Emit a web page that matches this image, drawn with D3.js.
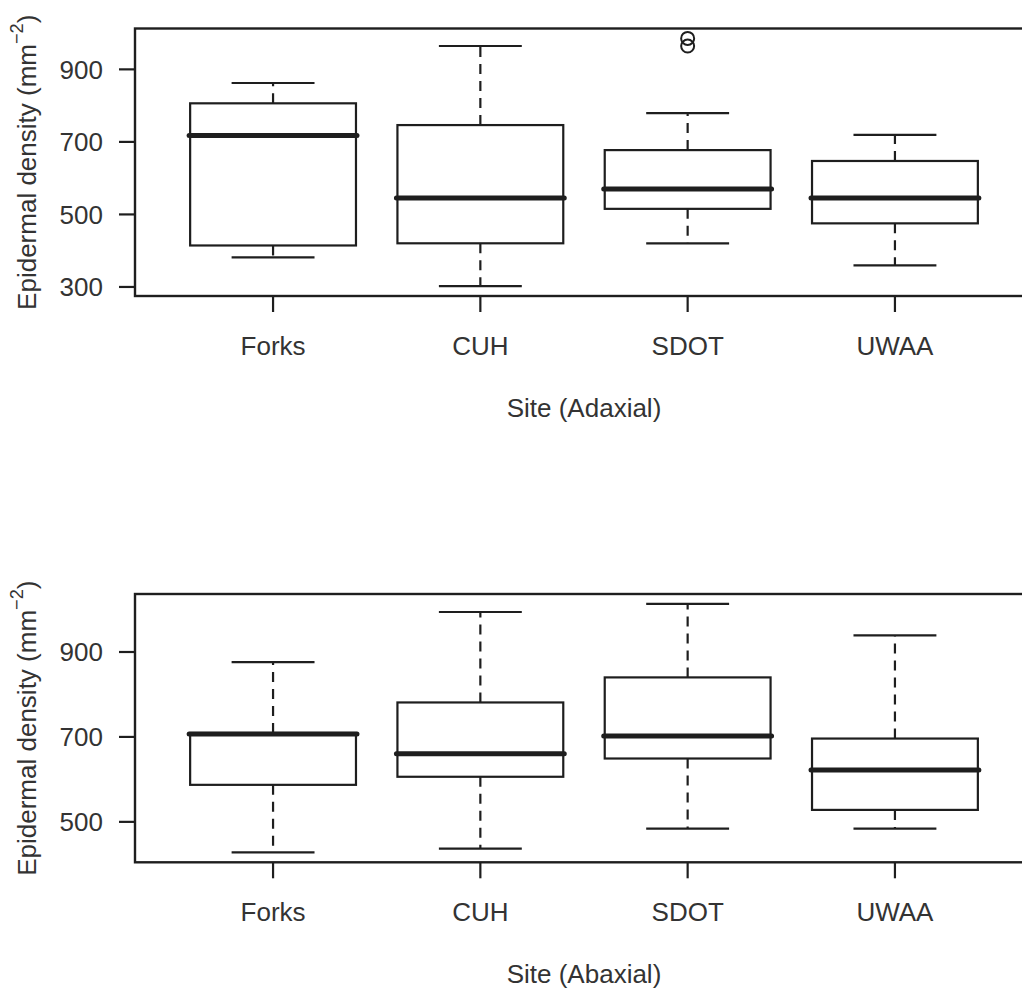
<!DOCTYPE html>
<html>
<head>
<meta charset="utf-8">
<script src="https://cdn.jsdelivr.net/npm/d3@7"></script>
<style>
  html, body { margin: 0; padding: 0; background: #fff; }
  svg { display: block; }
  text { font-family: "Liberation Sans", Arial, sans-serif; fill: #333; }
</style>
</head>
<body>
<svg id="chart" width="1022" height="994"></svg>
<script>
// ---- Data ----
const categories = ["Forks", "CUH", "SDOT", "UWAA"];

// Adaxial (top panel)
const adaxialLowerWhisker = [380, 301, 419, 358];
const adaxialQ1          = [413, 419, 514, 474];
const adaxialMedian      = [716, 544, 569, 544];
const adaxialQ3          = [805, 745, 676, 646];
const adaxialUpperWhisker= [861, 963, 778, 718];
const adaxialOutliers    = [[], [], [963, 984], []];
const adaxialTicks       = [300, 500, 700, 900];

// Abaxial (bottom panel)
const abaxialLowerWhisker = [427, 436, 483, 483];
const abaxialQ1           = [586, 605, 648, 527];
const abaxialMedian       = [706, 659, 701, 621];
const abaxialQ3           = [708, 780, 839, 695];
const abaxialUpperWhisker = [875, 993, 1012, 938];
const abaxialOutliers     = [[], [], [], []];
const abaxialTicks        = [500, 700, 900];

const yTitle = "Epidermal density (mm";
const xTitles = ["Site (Adaxial)", "Site (Abaxial)"];

// ---- Build ----
const svg = d3.select("#chart");
const FONT = 26;
const INK = "#1e1e1e";

const panels = [
  { top: 28.5, bottom: 296, lw: adaxialLowerWhisker, q1: adaxialQ1, med: adaxialMedian,
    q3: adaxialQ3, uw: adaxialUpperWhisker, out: adaxialOutliers, ticks: adaxialTicks, xt: xTitles[0] },
  { top: 594, bottom: 862.3, lw: abaxialLowerWhisker, q1: abaxialQ1, med: abaxialMedian,
    q3: abaxialQ3, uw: abaxialUpperWhisker, out: abaxialOutliers, ticks: abaxialTicks, xt: xTitles[1] }
];

const plotLeft = 135, plotRight = 1033;

const x = d3.scaleBand()
  .domain(categories)
  .range([plotLeft, plotRight])
  .paddingInner(0.2)
  .paddingOuter(0.266);

panels.forEach(p => {
  const all = [].concat(p.lw, p.uw, ...p.out);
  const lo = d3.min(all), hi = d3.max(all);
  const pad = (hi - lo) * 0.04;
  const y = d3.scaleLinear().domain([lo - pad, hi + pad]).range([p.bottom, p.top]);

  const g = svg.append("g");

  const rows = categories.map((c, i) => ({
    c, lw: p.lw[i], q1: p.q1[i], med: p.med[i], q3: p.q3[i], uw: p.uw[i], out: p.out[i]
  }));

  const bw = x.bandwidth();
  const cx = c => x(c) + bw / 2;

  const box = g.selectAll("g.box").data(rows).join("g").attr("class", "box");

  // whiskers (dashed)
  box.append("line")
    .attr("x1", d => cx(d.c)).attr("x2", d => cx(d.c))
    .attr("y1", d => y(d.q3)).attr("y2", d => y(d.uw))
    .attr("stroke", INK).attr("stroke-width", 2.2).attr("stroke-dasharray", "10,7");
  box.append("line")
    .attr("x1", d => cx(d.c)).attr("x2", d => cx(d.c))
    .attr("y1", d => y(d.q1)).attr("y2", d => y(d.lw))
    .attr("stroke", INK).attr("stroke-width", 2.2).attr("stroke-dasharray", "10,7");
  // staples
  box.append("line")
    .attr("x1", d => cx(d.c) - bw / 4).attr("x2", d => cx(d.c) + bw / 4)
    .attr("y1", d => y(d.uw)).attr("y2", d => y(d.uw))
    .attr("stroke", INK).attr("stroke-width", 2.2);
  box.append("line")
    .attr("x1", d => cx(d.c) - bw / 4).attr("x2", d => cx(d.c) + bw / 4)
    .attr("y1", d => y(d.lw)).attr("y2", d => y(d.lw))
    .attr("stroke", INK).attr("stroke-width", 2.2);
  // box
  box.append("rect")
    .attr("x", d => x(d.c)).attr("width", bw)
    .attr("y", d => y(d.q3)).attr("height", d => y(d.q1) - y(d.q3))
    .attr("fill", "#fff").attr("stroke", INK).attr("stroke-width", 2.2);
  // median
  box.append("line")
    .attr("x1", d => x(d.c) - 1).attr("x2", d => x(d.c) + bw + 1)
    .attr("y1", d => y(d.med)).attr("y2", d => y(d.med))
    .attr("stroke", INK).attr("stroke-width", 5).attr("stroke-linecap", "round");
  // outliers
  box.selectAll("circle").data(d => d.out.map(v => ({ c: d.c, v }))).join("circle")
    .attr("cx", d => cx(d.c)).attr("cy", d => y(d.v)).attr("r", 6.5)
    .attr("fill", "none").attr("stroke", INK).attr("stroke-width", 2);

  // frame
  g.append("rect")
    .attr("x", plotLeft).attr("y", p.top)
    .attr("width", plotRight - plotLeft).attr("height", p.bottom - p.top)
    .attr("fill", "none").attr("stroke", INK).attr("stroke-width", 2.4);

  // y axis
  const yAxis = d3.axisLeft(y).tickValues(p.ticks).tickSize(16).tickPadding(16).tickFormat(d3.format("d"));
  const ya = g.append("g").attr("transform", `translate(${plotLeft},0)`).call(yAxis);
  ya.select(".domain").remove();
  ya.selectAll(".tick line").attr("stroke", INK).attr("stroke-width", 2.2);
  ya.selectAll(".tick text").attr("font-size", FONT).attr("fill", "#333")
    .attr("font-family", "Liberation Sans, Arial, sans-serif").attr("dy", "0.36em");

  // x axis
  const xAxis = d3.axisBottom(x).tickSize(16).tickPadding(0);
  const xa = g.append("g").attr("transform", `translate(0,${p.bottom})`).call(xAxis);
  xa.select(".domain").remove();
  xa.selectAll(".tick line").attr("stroke", INK).attr("stroke-width", 2.2);
  xa.selectAll(".tick text").attr("font-size", FONT).attr("fill", "#333")
    .attr("font-family", "Liberation Sans, Arial, sans-serif")
    .attr("y", 59).attr("dy", 0);

  // x title
  g.append("text")
    .attr("x", (plotLeft + plotRight) / 2).attr("y", p.bottom + 121)
    .attr("text-anchor", "middle").attr("font-size", FONT)
    .text(p.xt);

  // y title
  const cy = (p.top + p.bottom) / 2;
  const t = g.append("text")
    .attr("transform", `translate(36,${cy}) rotate(-90)`)
    .attr("text-anchor", "middle").attr("font-size", FONT);
  t.append("tspan").text(yTitle);
  t.append("tspan").attr("font-size", FONT * 0.7).attr("dy", -FONT * 0.5).text("\u22122");
  t.append("tspan").attr("dy", FONT * 0.5).text(")");
});
</script>
</body>
</html>
